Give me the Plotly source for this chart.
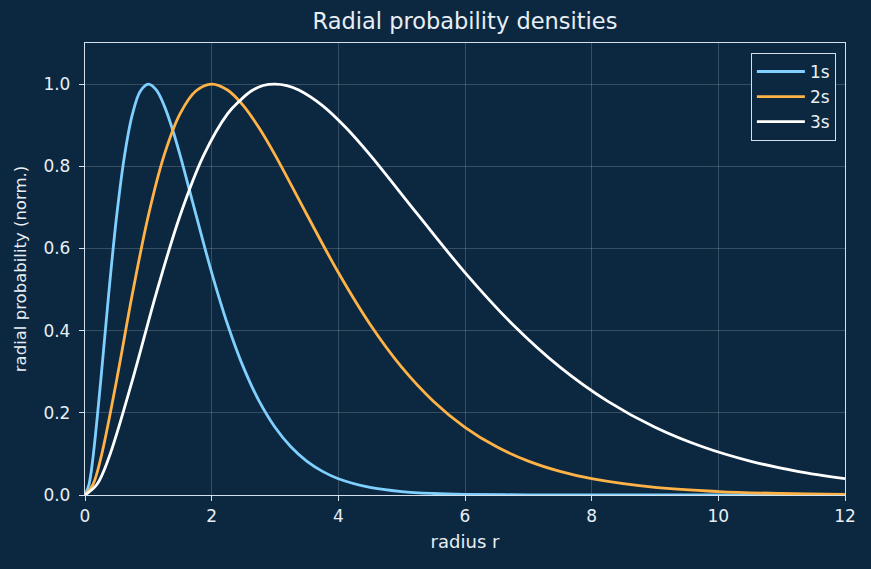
import plotly.graph_objects as go

r_1s = [0, 0.0625, 0.125, 0.25, 0.375, 0.5, 0.625, 0.75, 0.875, 1, 1.125, 1.25, 1.375, 1.5, 1.75, 2,
        2.25, 2.5, 2.75, 3, 3.25, 3.5, 3.75, 4, 4.5, 5, 5.5, 6, 7, 8, 9, 10, 12]
p_1s = [0, 0.0255, 0.0899, 0.2801, 0.4908, 0.6796, 0.8270, 0.9274, 0.9831, 1.0, 0.9857, 0.9477, 0.8931,
        0.8277, 0.6833, 0.5413, 0.4156, 0.3112, 0.2284, 0.1648, 0.1173, 0.0825, 0.0575, 0.0397,
        0.0185, 0.0084, 0.0037, 0.0016, 0.0003, 0.00005, 0.00001, 0.0, 0.0]

r_2s = [0, 0.125, 0.25, 0.5, 0.75, 1, 1.25, 1.5, 1.75, 2, 2.25, 2.5, 2.75, 3, 3.5, 4, 4.5, 5, 5.5, 6,
        6.5, 7, 7.5, 8, 9, 10, 11, 12]
p_2s = [0, 0.0255, 0.0899, 0.2801, 0.4908, 0.6796, 0.8270, 0.9274, 0.9831, 1.0, 0.9857, 0.9477, 0.8931,
        0.8277, 0.6833, 0.5413, 0.4156, 0.3112, 0.2284, 0.1648, 0.1173, 0.0825, 0.0575, 0.0397,
        0.0185, 0.0084, 0.0037, 0.0016]

r_3s = [0, 0.1875, 0.375, 0.75, 1.125, 1.5, 1.875, 2.25, 2.4375, 2.625, 2.8125, 3, 3.1875, 3.375, 3.75,
        4.125, 4.5, 5.25, 6, 6.75, 7.5, 8.25, 9, 9.75, 10.5, 11.25, 12]
p_3s = [0, 0.0255, 0.0899, 0.2801, 0.4908, 0.6796, 0.8270, 0.9274, 0.9585, 0.9831, 0.9966, 1.0, 0.9964,
        0.9857, 0.9477, 0.8931, 0.8277, 0.6833, 0.5413, 0.4156, 0.3112, 0.2284, 0.1648, 0.1173,
        0.0825, 0.0575, 0.0397]

names = ["1s", "2s", "3s"]
colors = ["#7fd0ff", "#ffb347", "#ffffff"]

BG = "#0c2840"
FG = "#e8eef4"
SPINE = "#d4e0ec"
FONT = "DejaVu Sans"

fig = go.Figure()
for xs, ys, n, c in zip([r_1s, r_2s, r_3s], [p_1s, p_2s, p_3s], names, colors):
    fig.add_trace(go.Scatter(x=xs, y=ys, mode="lines", name=n,
                             line=dict(color=c, width=2.8, shape="spline", smoothing=1.0)))

axis_common = dict(showline=True, linecolor=SPINE, linewidth=1.3, mirror=True,
                   ticks="outside", ticklen=5, tickwidth=1.2, tickcolor=SPINE,
                   showgrid=True, gridcolor="rgba(255,255,255,0.18)", gridwidth=0.7,
                   zeroline=False, tickfont=dict(color=FG, size=17, family=FONT))

fig.update_layout(
    width=871, height=569,
    paper_bgcolor=BG, plot_bgcolor=BG,
    margin=dict(l=85, r=26, t=43, b=74),
    font=dict(family=FONT, color=FG, size=16),
    title=dict(text="Radial probability densities", x=0.5, xref="paper", xanchor="center",
               y=0.962, yanchor="middle", font=dict(size=22.5, color=FG, family=FONT)),
    xaxis=dict(range=[0, 12], tickvals=[0, 2, 4, 6, 8, 10, 12],
               title=dict(text="radius r", font=dict(size=18, color=FG), standoff=10),
               **axis_common),
    yaxis=dict(range=[0, 1.1], tickvals=[0, 0.2, 0.4, 0.6, 0.8, 1.0], tickformat=".1f",
               ticklabelstandoff=5,
               title=dict(text="radial probability (norm.)", font=dict(size=16.5, color=FG), standoff=12),
               **axis_common),
    legend=dict(x=0.988, y=0.978, xanchor="right", yanchor="top",
                bgcolor=BG, bordercolor=SPINE, borderwidth=1, itemwidth=48,
                font=dict(size=17, color=FG, family=FONT)),
    showlegend=True,
)

fig.write_html("out.html")
